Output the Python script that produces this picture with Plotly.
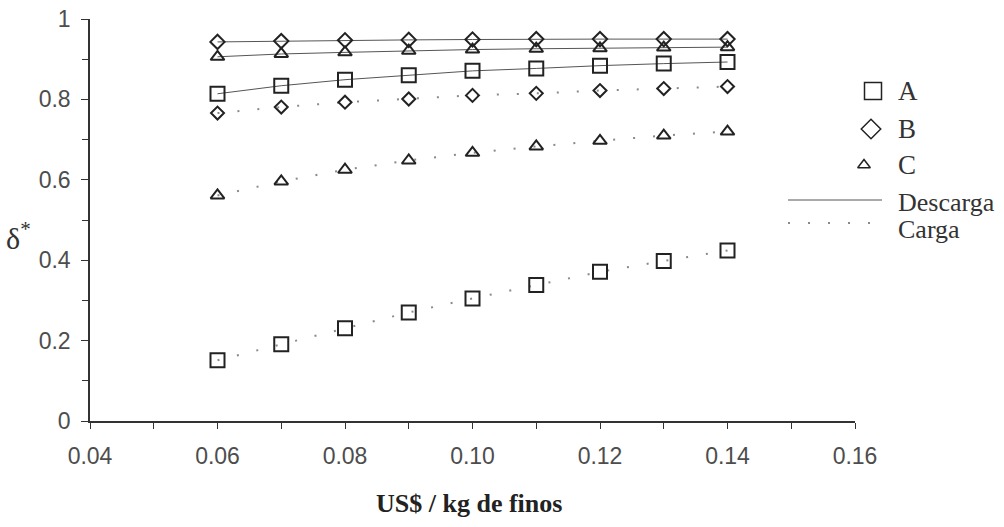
import plotly.graph_objects as go

# ---------------- data ----------------
precio = [0.06, 0.07, 0.08, 0.09, 0.10, 0.11, 0.12, 0.13, 0.14]

A_descarga = [0.814, 0.834, 0.849, 0.860, 0.871, 0.877, 0.884, 0.889, 0.893]
B_descarga = [0.943, 0.945, 0.947, 0.948, 0.949, 0.950, 0.950, 0.950, 0.950]
C_descarga = [0.906, 0.913, 0.917, 0.921, 0.924, 0.926, 0.927, 0.929, 0.930]

A_carga = [0.151, 0.191, 0.231, 0.270, 0.305, 0.338, 0.371, 0.398, 0.424]
B_carga = [0.766, 0.781, 0.793, 0.801, 0.810, 0.815, 0.822, 0.827, 0.832]
C_carga = [0.561, 0.596, 0.625, 0.648, 0.667, 0.683, 0.697, 0.710, 0.720]

x_tickvals = [0.04, 0.06, 0.08, 0.10, 0.12, 0.14, 0.16]
x_ticktext = ["0.04", "0.06", "0.08", "0.10", "0.12", "0.14", "0.16"]
x_minorvals = [0.05, 0.07, 0.09, 0.11, 0.13, 0.15]
y_tickvals = [0, 0.2, 0.4, 0.6, 0.8, 1.0]
y_ticktext = ["0", "0.2", "0.4", "0.6", "0.8", "1"]
y_minorvals = [0.1, 0.3, 0.5, 0.7, 0.9]

series_names = ["A", "B", "C"]
line_names = ["Descarga", "Carga"]

# ---------------- styles ----------------
W, H = 1004, 527
SYM = {"A": "square-open", "B": "diamond-open", "C": "triangle-up-open"}
SIZE = {"A": 14, "B": 10, "C": 12}
MK_COLOR = "#222222"
SOLID = dict(color="#555555", width=1)
DOTTED = dict(color="#8a8a8a", width=2, dash="2px,18px")
TICK_FONT = dict(family="Liberation Sans, Arial, sans-serif", size=23, color="#4d4d4d")
SERIF = "Liberation Serif, Times New Roman, serif"

fig = go.Figure()

carga = {"A": A_carga, "B": B_carga, "C": C_carga}
descarga = {"A": A_descarga, "B": B_descarga, "C": C_descarga}

for k in series_names:
    fig.add_trace(go.Scatter(
        x=precio, y=carga[k], mode="lines+markers", line=DOTTED,
        marker=dict(symbol=SYM[k], size=SIZE[k], color=MK_COLOR, line=dict(width=2, color=MK_COLOR)),
        showlegend=False, name=k + " carga"))
for k in ["A", "C", "B"]:
    fig.add_trace(go.Scatter(
        x=precio, y=descarga[k], mode="lines+markers", line=SOLID,
        marker=dict(symbol=SYM[k], size=SIZE[k] + (1 if k == "B" else 0), color=MK_COLOR,
                    line=dict(width=2, color=MK_COLOR)),
        showlegend=False, name=k + " descarga"))

# ---------------- custom legend (overlay axis in pixel units) ----------------
leg_sym_x = [873, 871, 864]
leg_sym_y = [91, 129, 165]
leg_sizes = [17, 15, 11]
for k, sx, sy, ss in zip(series_names, leg_sym_x, leg_sym_y, leg_sizes):
    fig.add_trace(go.Scatter(
        x=[sx], y=[sy], mode="markers", xaxis="x2", yaxis="y2",
        marker=dict(symbol=SYM[k], size=ss, color=MK_COLOR, line=dict(width=1.5, color=MK_COLOR)),
        showlegend=False, hoverinfo="skip"))
    fig.add_annotation(x=896, y=sy, xref="x2", yref="y2", text=k, showarrow=False,
                       xanchor="left", yanchor="middle",
                       font=dict(family=SERIF, size=27, color="#333333"))

leg_line_y = [200, 223]
leg_line_style = [SOLID, dict(color="#8a8a8a", width=2, dash="2px,18px")]
leg_text_y = [202, 229]
for nm, ly, ty, st in zip(line_names, leg_line_y, leg_text_y, leg_line_style):
    fig.add_trace(go.Scatter(
        x=[788, 882], y=[ly, ly], mode="lines", xaxis="x2", yaxis="y2",
        line=st, showlegend=False, hoverinfo="skip"))
    fig.add_annotation(x=896, y=ty, xref="x2", yref="y2", text=nm, showarrow=False,
                       xanchor="left", yanchor="middle",
                       font=dict(family=SERIF, size=26, color="#333333"))

# axis titles
fig.add_annotation(x=18, y=236, xref="x2", yref="y2", text="δ<sup>*</sup>", showarrow=False,
                   xanchor="center", yanchor="middle",
                   font=dict(family=SERIF, size=30, color="#333333"))
fig.add_annotation(x=469, y=503, xref="x2", yref="y2", text="<b>US$ / kg de finos</b>", showarrow=False,
                   xanchor="center", yanchor="middle",
                   font=dict(family=SERIF, size=26, color="#222222"))

x0, x1 = 90, 855
y0, y1 = 421, 19
fig.update_layout(
    width=W, height=H,
    margin=dict(l=0, r=0, t=0, b=0, pad=0),
    paper_bgcolor="white", plot_bgcolor="rgba(0,0,0,0)",
    showlegend=False,
    xaxis=dict(domain=[x0 / W, x1 / W], range=[0.04, 0.16], showgrid=False, zeroline=False,
               showline=True, linecolor="#333333", linewidth=1.5,
               tickmode="array", tickvals=x_tickvals, ticktext=x_ticktext,
               ticks="outside", ticklen=6, tickwidth=1.2, tickcolor="#333333",
               minor=dict(tickmode="array", tickvals=x_minorvals, ticks="outside", ticklen=6,
                          tickwidth=1.2, tickcolor="#333333", showgrid=False),
               tickfont=TICK_FONT, ticklabelstandoff=8, automargin=False),
    yaxis=dict(domain=[(H - y0) / H, (H - y1) / H], range=[0, 1], showgrid=False, zeroline=False,
               showline=True, linecolor="#333333", linewidth=1.5,
               tickmode="array", tickvals=y_tickvals, ticktext=y_ticktext,
               ticks="outside", ticklen=7, tickwidth=1.2, tickcolor="#333333",
               minor=dict(tickmode="array", tickvals=y_minorvals, ticks="outside", ticklen=6,
                          tickwidth=1.2, tickcolor="#333333", showgrid=False),
               tickfont=TICK_FONT, ticklabelstandoff=6, automargin=False),
    xaxis2=dict(domain=[0, 1], range=[0, W], visible=False, fixedrange=True, anchor="y2"),
    yaxis2=dict(domain=[0, 1], range=[H, 0], visible=False, fixedrange=True, anchor="x2"),
)

fig.write_html("out.html", config={"displayModeBar": False},
               post_script="document.body.style.margin='0';document.body.style.padding='0';")
